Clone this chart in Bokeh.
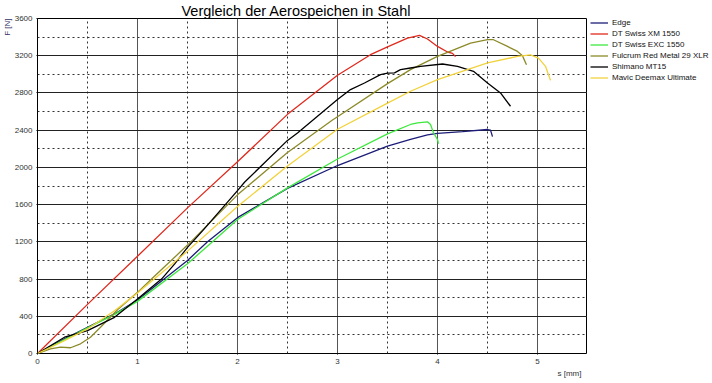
from bokeh.plotting import figure
from bokeh.layouts import row
from bokeh.models import FixedTicker, Legend, LegendItem, Range1d, Title
from bokeh.embed import file_html
from bokeh.resources import INLINE

title_text = "Vergleich der Aerospeichen in Stahl"
x_label = "s [mm]"
y_label = "F [N]"

x_ticks = [0, 1, 2, 3, 4, 5]
x_minor = [0.5, 1.5, 2.5, 3.5, 4.5]
y_ticks = [0, 400, 800, 1200, 1600, 2000, 2400, 2800, 3200, 3600]
y_minor = [200, 600, 1000, 1400, 1800, 2200, 2600, 3000, 3400]

names = ["Edge", "DT Swiss XM 1550", "DT Swiss EXC 1550",
         "Fulcrum Red Metal 29 XLR", "Shimano MT15", "Mavic Deemax Ultimate"]
colors = ["#1c1c78", "#e02a1e", "#3ee83e", "#8c8a28", "#000000", "#f2d23c"]

edge_s = [0, 0.27, 0.5, 0.77, 1.0, 1.5, 1.7, 2.0, 2.5, 3.0, 3.5, 3.73, 3.9, 4.0, 4.25, 4.5, 4.53, 4.55]
edge_f = [0, 157, 280, 425, 575, 1000, 1200, 1460, 1775, 2020, 2229, 2300, 2350, 2365, 2385, 2407, 2400, 2330]

xm_s = [0, 0.5, 1.0, 1.5, 2.0, 2.5, 3.0, 3.33, 3.5, 3.7, 3.82, 3.9, 4.0, 4.1, 4.15, 4.18]
xm_f = [0, 528, 1045, 1565, 2060, 2570, 2990, 3211, 3295, 3390, 3418, 3380, 3300, 3240, 3225, 3190]

exc_s = [0, 0.27, 0.5, 0.77, 1.0, 1.5, 1.75, 2.0, 2.5, 3.0, 3.5, 3.73, 3.8, 3.9, 3.93, 3.96, 4.0, 4.01]
exc_f = [0, 150, 275, 420, 560, 965, 1200, 1440, 1780, 2090, 2360, 2461, 2479, 2490, 2461, 2372, 2300, 2254]

ful_s = [0, 0.13, 0.23, 0.33, 0.43, 0.53, 0.63, 0.8, 1.0, 1.14, 1.5, 2.0, 2.5, 2.95, 3.0, 3.5, 3.73, 4.0, 4.33, 4.5, 4.56, 4.7, 4.8, 4.85, 4.87, 4.89]
ful_f = [0, 50, 68, 62, 104, 175, 282, 470, 657, 800, 1165, 1705, 2160, 2510, 2545, 2900, 3050, 3193, 3336, 3372, 3372, 3300, 3246, 3200, 3150, 3104]

shi_s = [0, 0.27, 0.5, 0.77, 1.0, 1.24, 1.37, 1.5, 1.65, 2.0, 2.07, 2.5, 2.6, 3.0, 3.13, 3.27, 3.43, 3.5, 3.57, 3.63, 3.73, 3.83, 4.05, 4.2, 4.36, 4.5, 4.63, 4.73]
shi_f = [0, 175, 246, 389, 586, 800, 961, 1140, 1318, 1750, 1840, 2290, 2370, 2729, 2836, 2907, 2997, 3014, 3015, 3050, 3068, 3086, 3111, 3086, 3032, 2907, 2800, 2657]

mav_s = [0, 0.27, 0.5, 0.77, 1.0, 1.5, 2.0, 2.5, 3.0, 3.5, 3.73, 4.0, 4.5, 4.8, 4.93, 5.01, 5.08, 5.13]
mav_f = [0, 139, 264, 460, 650, 1100, 1580, 2015, 2410, 2690, 2818, 2943, 3122, 3193, 3210, 3175, 3086, 2935]

series = [(edge_s, edge_f), (xm_s, xm_f), (exc_s, exc_f),
          (ful_s, ful_f), (shi_s, shi_f), (mav_s, mav_f)]

FONT = "Liberation Sans"

p = figure(width=587, height=383, output_backend="svg", toolbar_location=None,
           x_range=Range1d(0, 5.5), y_range=Range1d(0, 3600),
           min_border_left=36, min_border_right=0, min_border_top=17, min_border_bottom=30)
p.background_fill_color = "white"
p.border_fill_color = "white"
p.outline_line_color = "#000000"
p.outline_line_width = 1

p.title.text = title_text
p.title.align = "left"
p.title.offset = 144
p.title.standoff = 0
p.title.text_font = FONT
p.title.text_font_size = "14.5px"
p.title.text_font_style = "normal"
p.title.text_color = "#000000"

for ax, ticks, minor in ((p.xaxis[0], x_ticks, x_minor), (p.yaxis[0], y_ticks, y_minor)):
    ax.ticker = FixedTicker(ticks=ticks, minor_ticks=minor)
    ax.axis_line_color = None
    ax.major_tick_line_color = "#000000"
    ax.major_tick_out = 1
    ax.major_tick_in = 0
    ax.minor_tick_line_color = None
    ax.major_label_text_font = FONT
    ax.major_label_text_font_size = "8px"
    ax.major_label_text_color = "#333333"
    ax.major_label_standoff = 1

for g in (p.xgrid[0], p.ygrid[0]):
    g.grid_line_color = "#222222"
    g.grid_line_width = 1
    g.minor_grid_line_color = "#333333"
    g.minor_grid_line_dash = "2 3"
    g.minor_grid_line_width = 1
p.xgrid[0].grid_line_color = "#555555"

for (xs, ys), c in zip(series, colors):
    p.line(xs, ys, line_color=c, line_width=1.3)

p.add_layout(Title(text=y_label, align="right", text_font=FONT, text_font_size="8px",
                   text_font_style="normal", text_color="#333366", standoff=0,
                   offset=0), "left")
p.add_layout(Title(text=x_label, align="right", text_font=FONT, text_font_size="8px",
                   text_font_style="normal", text_color="#333333", standoff=0,
                   offset=6), "below")

# legend panel: same series drawn off-screen, only their legend samples show
q = figure(width=125, height=383, output_backend="svg", toolbar_location=None,
           x_range=Range1d(100, 101), y_range=Range1d(0, 3600),
           min_border_left=0, min_border_right=0, min_border_top=0, min_border_bottom=0)
q.axis.visible = False
q.grid.visible = False
q.outline_line_color = None
q.background_fill_color = "white"
q.border_fill_color = "white"

items = []
for (xs, ys), name, c in zip(series, names, colors):
    r = q.line(xs, ys, line_color=c, line_width=1.3)
    items.append(LegendItem(label=name, renderers=[r]))

legend = Legend(items=items, location=(3, 270), margin=0, padding=0,
                border_line_alpha=0, background_fill_alpha=0,
                label_text_font=FONT, label_text_font_size="8px",
                label_text_color="#111111",
                glyph_width=18, glyph_height=11, label_height=11,
                label_standoff=4, spacing=0)
q.add_layout(legend, "center")

layout = row(p, q, spacing=0)
open("out.html", "w").write(file_html(layout, INLINE))
